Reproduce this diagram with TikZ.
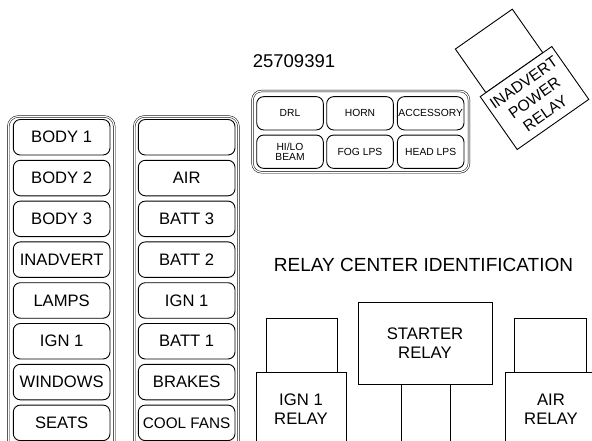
\documentclass[tikz,border=0pt]{standalone}
\usepackage{fontspec}
\setmainfont{Liberation Sans}
\tikzset{
  every node/.style={align=center, inner sep=0pt, outer sep=0pt},
  fuse/.style={draw, rounded corners=7, minimum width=96.7, minimum height=35.5, line width=0.9pt, font=\fontsize{16.6}{19}\selectfont},
  mini/.style={draw, rounded corners=7, minimum width=66.6, minimum height=33.3, line width=0.9pt, font=\fontsize{10.3}{10.3}\selectfont},
  relay/.style={draw, fill=white, line width=0.9pt, font=\fontsize{16.7}{19.2}\selectfont},
  holder/.style={draw, double, double distance=1.2pt, line width=0.5pt},
}
\begin{document}
\begin{tikzpicture}[x=1pt, y=-1pt]
\useasboundingbox (0,0) rectangle (592,440);
\clip (0,0) rectangle (592,440);

% fuse holders
\draw[holder, rounded corners=10] (8.3,116.5) rectangle (114.3,470);
\draw[holder, rounded corners=10] (134.3,116.5) rectangle (238.5,470);
\draw[holder, rounded corners=9] (252.5,91) rectangle (469,172.3);

% left column
\node[fuse] (l1) at (61.65,137.25) {BODY 1};
\node[fuse] (l2) at (61.65,178.05) {BODY 2};
\node[fuse] (l3) at (61.65,218.85) {BODY 3};
\node[fuse] (l4) at (61.65,259.65) {INADVERT};
\node[fuse] (l5) at (61.65,300.45) {LAMPS};
\node[fuse] (l6) at (61.65,341.25) {IGN 1};
\node[fuse] (l7) at (61.65,382.05) {WINDOWS};
\node[fuse] (l8) at (61.65,422.85) {SEATS};

% right column
\node[fuse] (r1) at (186.65,137.25) {};
\node[fuse] (r2) at (186.65,178.05) {AIR};
\node[fuse] (r3) at (186.65,218.85) {BATT 3};
\node[fuse] (r4) at (186.65,259.65) {BATT 2};
\node[fuse] (r5) at (186.65,300.45) {IGN 1};
\node[fuse] (r6) at (186.65,341.25) {BATT 1};
\node[fuse] (r7) at (186.65,382.05) {BRAKES};
\node[fuse, font=\fontsize{15.3}{18}\selectfont] (r8) at (186.65,422.85) {COOL FANS};

% top group
\node[mini] (drl) at (290,113.3) {DRL};
\node[mini] (horn) at (360,113.3) {HORN};
\node[mini] (acc) at (430.7,113.3) {ACCESSORY};
\node[mini] (hilo) at (290,151.7) {HI/LO\\BEAM};
\node[mini] (fog) at (360,151.7) {FOG LPS};
\node[mini] (head) at (430.7,151.7) {HEAD LPS};

% texts
\node[font=\fontsize{18.5}{20}\selectfont] (pn) at (294,61) {25709391};
\node[font=\fontsize{19}{21}\selectfont] (title) at (423.5,265) {RELAY CENTER IDENTIFICATION};

% relays
\node[relay, minimum width=71, minimum height=54] (ign1s) at (301.5,345) {};
\node[relay, minimum width=90, minimum height=74] (ign1) at (301,409) {IGN 1\\RELAY};

\node[relay, minimum width=49, minimum height=60] (sts) at (425.5,414) {};
\node[relay, minimum width=134, minimum height=82] (st) at (425,343) {STARTER\\RELAY};

\node[relay, minimum width=72, minimum height=54] (airs) at (550,345) {};
\node[relay, minimum width=92, minimum height=74] (air) at (551,409) {AIR\\RELAY};

% inadvert power relay (rotated)
\begin{scope}[shift={(534.5,98)}, rotate=35]
  \node[relay, transform shape, minimum width=69.5, minimum height=53.2] (iprs) at (-2,-58.9) {};
  \node[relay, transform shape, minimum width=87.4, minimum height=64.5, font=\fontsize{15.6}{18.8}\selectfont] (ipr) at (0,0) {INADVERT\\POWER\\RELAY};
\end{scope}
\end{tikzpicture}
\end{document}
